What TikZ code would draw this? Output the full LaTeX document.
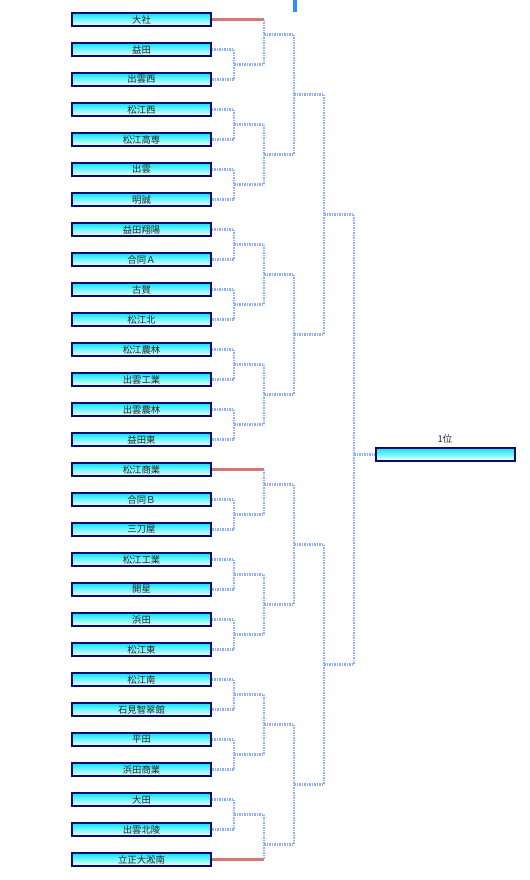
\documentclass[tikz,border=0pt]{standalone}
\usepackage{fontspec}
\newfontfamily\jp{Noto Sans CJK JP}
\definecolor{boxtop}{RGB}{0,232,245}
\definecolor{boxmid}{RGB}{90,240,248}
\definecolor{boxedge}{RGB}{10,10,110}
\definecolor{bline}{RGB}{140,176,255}
\definecolor{rline}{RGB}{210,120,120}
\definecolor{barblue}{RGB}{51,140,255}
\definecolor{txt}{RGB}{40,40,40}
\newcommand\mybracket[5]{%
  \coordinate (#1a) at (#2,#3);
  \coordinate (#1b) at (#2,#4);
  \coordinate (#1o) at (#2,#5);
  \coordinate (#1n) at ({#2+30},#5);
  \draw[bl] (#1a) -- (#1b);
  \draw[bl] (#1o) -- (#1n);
}
\newcommand\mypair[3]{%
  \coordinate (#1m) at (234,#3);
  \coordinate (#1n) at (264,#3);
  \draw[bl] (t#2.east) -| (#1m) |- (t\the\numexpr#2+1\relax.east);
  \draw[bl] (#1m) -- (#1n);
}
\begin{document}
\begin{tikzpicture}[x=1bp,y=-1bp,
  team/.style={draw=boxedge, line width=1.3bp, top color=boxtop, middle color=boxmid, bottom color=white,
    minimum width=139bp, minimum height=13bp, inner sep=0pt,
    font=\jp\fontsize{9.4}{10}\selectfont, text=txt},
  bl/.style={draw=bline, line width=2.4bp, dash pattern=on 1.5bp off 1bp},
  rl/.style={draw=rline, line width=2.4bp},
  lbl/.style={font=\jp\fontsize{9.4}{10}\selectfont, text=txt, inner sep=0pt}]
\useasboundingbox (0,0) rectangle (530,880);
\fill[barblue] (293,0) rectangle (297,12);
\foreach \n [count=\i from 0] in {大社,益田,出雲西,松江西,松江高専,出雲,明誠,益田翔陽,合同Ａ,古賀,松江北,松江農林,出雲工業,出雲農林,益田東,松江商業,合同Ｂ,三刀屋,松江工業,開星,浜田,松江東,松江南,石見智翠館,平田,浜田商業,大田,出雲北陵,立正大淞南}
  \node[team] (t\i) at (141.5,{19.5+30*\i}) {\n};
% byes
\coordinate (e0) at (264,19.5);
\coordinate (e15) at (264,469.5);
\coordinate (e28) at (264,859.5);
\draw[rl] (t0.east) -- (e0);
\draw[rl] (t15.east) -- (e15);
\draw[rl] (t28.east) -- (e28);
% round 1
\mypair{p1}{1}{64.5}
\mypair{p3}{3}{124.5}
\mypair{p5}{5}{184.5}
\mypair{p7}{7}{244.5}
\mypair{p9}{9}{304.5}
\mypair{p11}{11}{364.5}
\mypair{p13}{13}{424.5}
\mypair{p16}{16}{514.5}
\mypair{p18}{18}{574.5}
\mypair{p20}{20}{634.5}
\mypair{p22}{22}{694.5}
\mypair{p24}{24}{754.5}
\mypair{p26}{26}{814.5}
% round 2
\mybracket{qA}{264}{19.5}{64.5}{34.5}
\mybracket{qB}{264}{124.5}{184.5}{154.5}
\mybracket{qC}{264}{244.5}{304.5}{274.5}
\mybracket{qD}{264}{364.5}{424.5}{394.5}
\mybracket{qE}{264}{469.5}{514.5}{484.5}
\mybracket{qF}{264}{574.5}{634.5}{604.5}
\mybracket{qG}{264}{694.5}{754.5}{724.5}
\mybracket{qH}{264}{814.5}{859.5}{844.5}
% round 3
\mybracket{sA}{294}{34.5}{154.5}{94.5}
\mybracket{sB}{294}{274.5}{394.5}{334.5}
\mybracket{sC}{294}{484.5}{604.5}{544.5}
\mybracket{sD}{294}{724.5}{844.5}{784.5}
% round 4
\mybracket{uA}{324}{94.5}{334.5}{214.5}
\mybracket{uB}{324}{544.5}{784.5}{664.5}
% final
\node[team] (win) at (445.5,454.5) {};
\node[lbl] (winlbl) at (445,439) {1位};
\coordinate (fa) at (354,214.5);
\coordinate (fb) at (354,664.5);
\coordinate (fo) at (354,454.5);
\draw[bl] (fa) -- (fb);
\draw[bl] (fo) -- (win.west);
\end{tikzpicture}
\end{document}
